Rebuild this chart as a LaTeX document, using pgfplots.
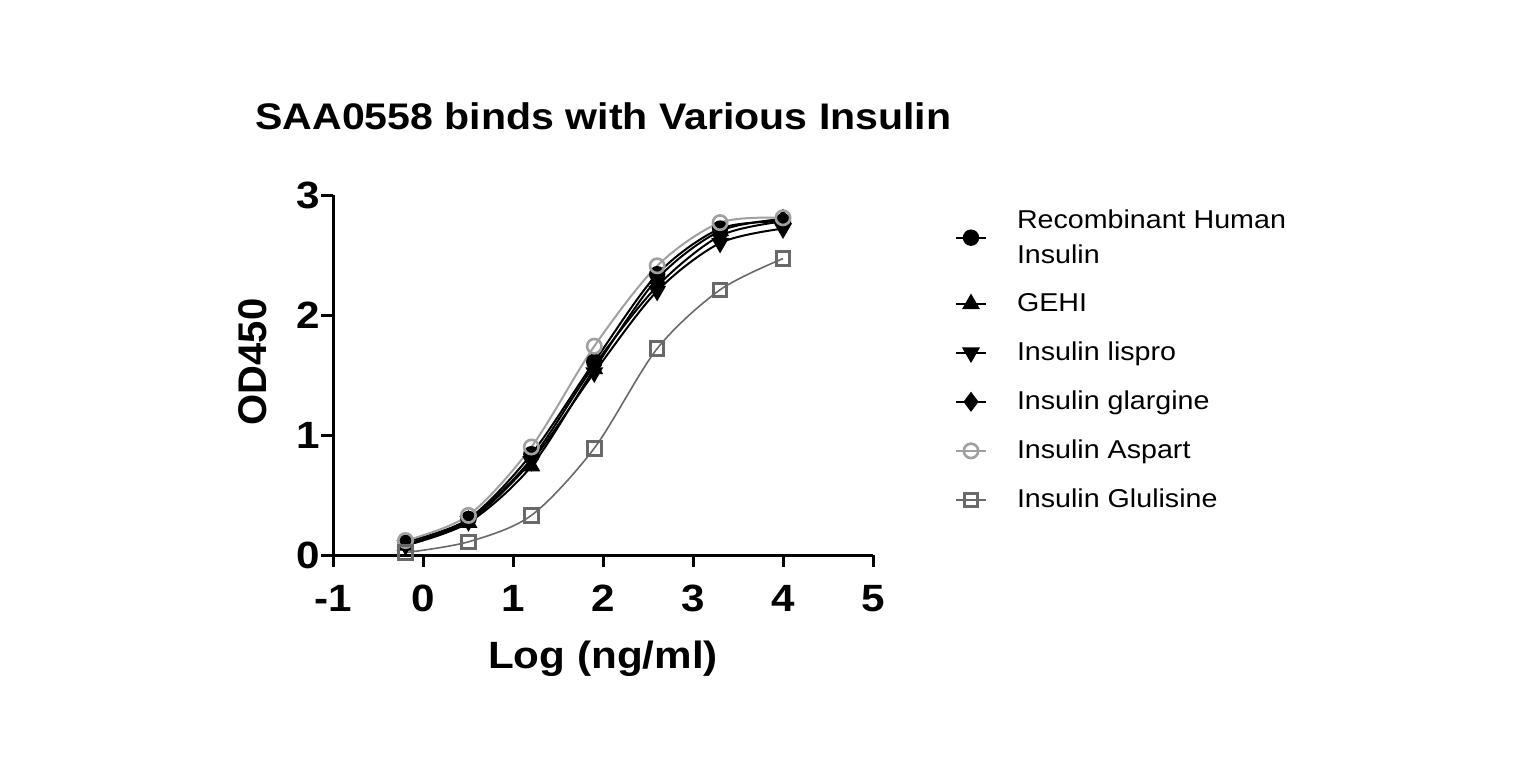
\documentclass[border=0pt]{standalone}
\usepackage{pgfplots}
\pgfplotsset{compat=1.18}
\usepackage{fontspec}
\setmainfont{Liberation Sans}[FakeStretch=1.11]
\newfontfamily\plainfont{Liberation Sans}
\definecolor{asp}{RGB}{160,160,160}
\definecolor{glu}{RGB}{105,105,105}
\pgfplotstableread{
x      rec   gehi  lis   gla   asp   glu
-0.194 0.11  0.08  0.08  0.09  0.12  0.02
0.505  0.30  0.27  0.28  0.29  0.33  0.11
1.204  0.84  0.74  0.78  0.80  0.90  0.33
1.903  1.61  1.55  1.52  1.58  1.74  0.89
2.602  2.34  2.30  2.20  2.24  2.41  1.72
3.301  2.72  2.70  2.60  2.66  2.77  2.21
4.000  2.78  2.80  2.72  2.78  2.81  2.47
}\data
\begin{document}
\begin{tikzpicture}
\path[use as bounding box] (0,0) rectangle (769pt,391.5pt);
\node[anchor=base west, font=\bfseries\fontsize{18.5}{20}\selectfont, inner sep=0pt] at (127.5pt,326.5pt) {SAA0558 binds with Various Insulin};
\begin{axis}[
  at={(166.5pt,114pt)}, anchor=south west,
  scale only axis, width=270pt, height=180pt,
  xmin=-1, xmax=5, ymin=0, ymax=3,
  axis x line*=bottom, axis y line*=left,
  xtick={-1,0,1,2,3,4,5}, ytick={0,1,2,3},
  tick align=outside, major tick length=6pt,
  axis line style={line width=1.5pt},
  tick style={line width=1.5pt, black},
  /pgf/number format/assume math mode=true,
  ticklabel style={font=\bfseries\fontsize{19}{19}\selectfont},
  xticklabel style={anchor=base, yshift=-22pt},
  yticklabel style={anchor=east, xshift=3pt},
  xlabel={Log (ng/ml)}, ylabel={OD450},
  xlabel style={font=\bfseries\fontsize{19}{19}\selectfont, at={(axis description cs:0.5,0)}, anchor=base, yshift=-56.5pt},
  ylabel style={font=\plainfont\bfseries\fontsize{20}{20}\selectfont, at={(axis description cs:-0.148,0.536)}, anchor=center},
  legend cell align=left,
  legend style={draw=none, fill=none, at={(axis description cs:1.14,0.978)}, anchor=north west,
    font=\fontsize{12.9}{17.5}\selectfont, row sep=11.7pt, column sep=14pt,
    cells={anchor=west, align=left}, nodes={inner sep=1pt}},
  legend image code/.code={\draw[mark repeat=2,mark phase=2,#1] plot coordinates {(0pt,0pt) (7.5pt,0pt) (15pt,0pt)};},
  every axis plot/.append style={smooth, tension=0.5},
]
\addplot[black, line width=1pt, mark=*, mark size=3.6pt, mark options={solid, fill=black}] table[x=x,y=rec] {\data};
\addlegendentry{Recombinant Human\\Insulin}
\addplot[black, line width=1pt, mark=triangle*, mark size=4.2pt, mark options={solid, fill=black}] table[x=x,y=gehi] {\data};
\addlegendentry{GEHI}
\addplot[black, line width=1pt, mark=triangle*, mark size=4.2pt, mark options={solid, fill=black, rotate=180}] table[x=x,y=lis] {\data};
\addlegendentry{Insulin lispro}
\addplot[black, line width=1pt, mark=diamond*, mark size=4.2pt, mark options={solid, fill=black}] table[x=x,y=gla] {\data};
\addlegendentry{Insulin glargine}
\addplot[asp, line width=1pt, mark=o, mark size=3.6pt, mark options={solid, line width=1.3pt}] table[x=x,y=asp] {\data};
\addlegendentry{Insulin Aspart}
\addplot[glu, line width=0.8pt, mark=square, mark size=3.4pt, mark options={solid, line width=1.5pt}] table[x=x,y=glu] {\data};
\addlegendentry{Insulin Glulisine}
\end{axis}
\end{tikzpicture}
\end{document}
